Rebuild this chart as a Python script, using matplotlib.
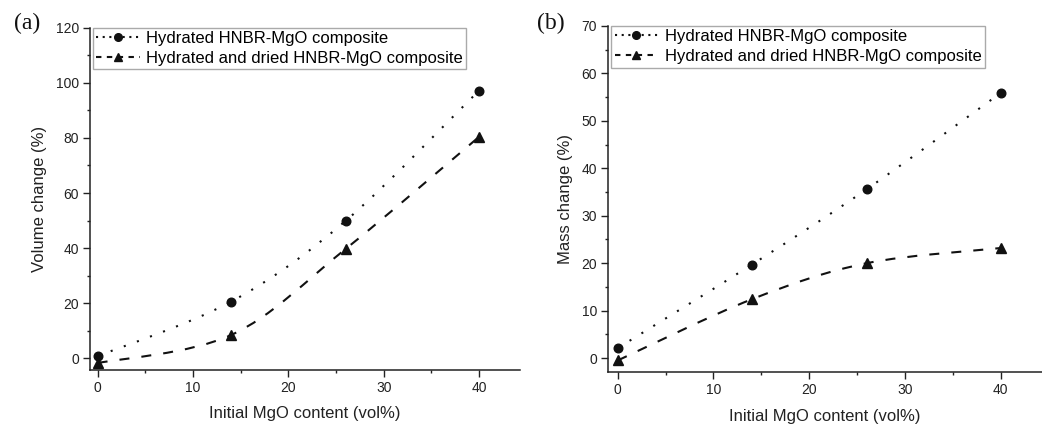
import numpy as np
import matplotlib
matplotlib.use('Agg')
import matplotlib.pyplot as plt
from matplotlib.path import Path
from matplotlib.patches import PathPatch
from matplotlib.lines import Line2D
from matplotlib.ticker import MultipleLocator

mgo = [0, 14, 26, 40]
vol_hyd = [0.8, 20.6, 49.9, 97.2]
vol_dry = [-1.7, 8.5, 39.7, 80.4]
mass_hyd = [2.1, 19.7, 35.6, 55.9]
mass_dry = [-0.5, 12.4, 20.0, 23.2]
lab_hyd = 'Hydrated HNBR-MgO composite'
lab_dry = 'Hydrated and dried HNBR-MgO composite'

plt.rcParams['font.family'] = ['Liberation Sans', 'DejaVu Sans']
DOT = (0, (1.0, 5.7))
DASH = (0, (4.8, 5.8))
INK = '#111111'


def smooth_path(xs, ys):
    # catmull-rom through the points, drawn as cubic bezier segments
    p = np.column_stack([xs, ys]).astype(float)
    pts = np.vstack([p[0], p, p[-1]])
    verts = [p[0]]
    codes = [Path.MOVETO]
    for i in range(1, len(pts) - 2):
        p0, p1, p2, p3 = pts[i - 1], pts[i], pts[i + 1], pts[i + 2]
        verts += [p1 + (p2 - p0) / 6, p2 - (p3 - p1) / 6, p2]
        codes += [Path.CURVE4] * 3
    return Path(verts, codes)


def panel(ax, yh, yd, xlim, ylim, ymaj, ylabel, tag):
    for ys, ls, mk, ms in [(yh, DOT, 'o', 6.2), (yd, DASH, '^', 7)]:
        ax.add_patch(PathPatch(smooth_path(mgo, ys), fill=False, lw=1.5,
                               ls=ls, ec=INK, capstyle='butt'))
        ax.plot(mgo, ys, ls='none', marker=mk, ms=ms, color=INK, zorder=3)
    ax.set_xlim(*xlim)
    ax.set_ylim(*ylim)
    ax.xaxis.set_major_locator(MultipleLocator(10))
    ax.xaxis.set_minor_locator(MultipleLocator(5))
    ax.yaxis.set_major_locator(MultipleLocator(ymaj))
    ax.yaxis.set_minor_locator(MultipleLocator(ymaj / 2))
    for s in ['top', 'right']:
        ax.spines[s].set_visible(False)
    for s in ['left', 'bottom']:
        ax.spines[s].set_linewidth(1.1)
        ax.spines[s].set_color('#222222')
    ax.tick_params(which='major', length=5, width=1, labelsize=10, pad=3,
                   color='#222222', labelcolor='#222222')
    ax.tick_params(which='minor', length=2.5, width=1, color='#222222')
    ax.set_xlabel('Initial MgO content (vol%)', fontsize=12, labelpad=8,
                  color='#222222')
    ax.set_ylabel(ylabel, fontsize=12, labelpad=6, color='#222222')
    hs = [Line2D([], [], ls=(0, (1.0, 2.2)), lw=1.5, marker='o', ms=5.5,
                 color=INK),
          Line2D([], [], ls=(0, (2.6, 2.6)), lw=1.5, marker='^', ms=6,
                 color=INK)]
    leg = ax.legend(hs, [lab_hyd, lab_dry], loc='upper left',
                    bbox_to_anchor=(0.007, 1.0), fontsize=12, frameon=True,
                    fancybox=False, edgecolor='#aaaaaa', framealpha=1,
                    borderpad=0.2, labelspacing=0.3, handlelength=2.6,
                    handletextpad=0.4, borderaxespad=0)
    leg.get_frame().set_linewidth(1.0)
    ax.figure.text(*tag[1:], tag[0], fontsize=17, family='Liberation Serif',
                   ha='center', va='center', color='#111111')


fig = plt.figure(figsize=(10.42, 4.26), dpi=100)
ax1 = fig.add_axes([0.0864, 0.1315, 0.4127, 0.8035])
ax2 = fig.add_axes([0.5838, 0.126, 0.4162, 0.813])
panel(ax1, vol_hyd, vol_dry, (-0.8, 44.3), (-4.2, 120), 20,
      'Volume change (%)', ('(a)', 27 / 1042, 1 - 23 / 426))
panel(ax2, mass_hyd, mass_dry, (-0.98, 44.3), (-3, 70), 10,
      'Mass change (%)', ('(b)', 551 / 1042, 1 - 23 / 426))
fig.savefig('out.png', dpi=100)
